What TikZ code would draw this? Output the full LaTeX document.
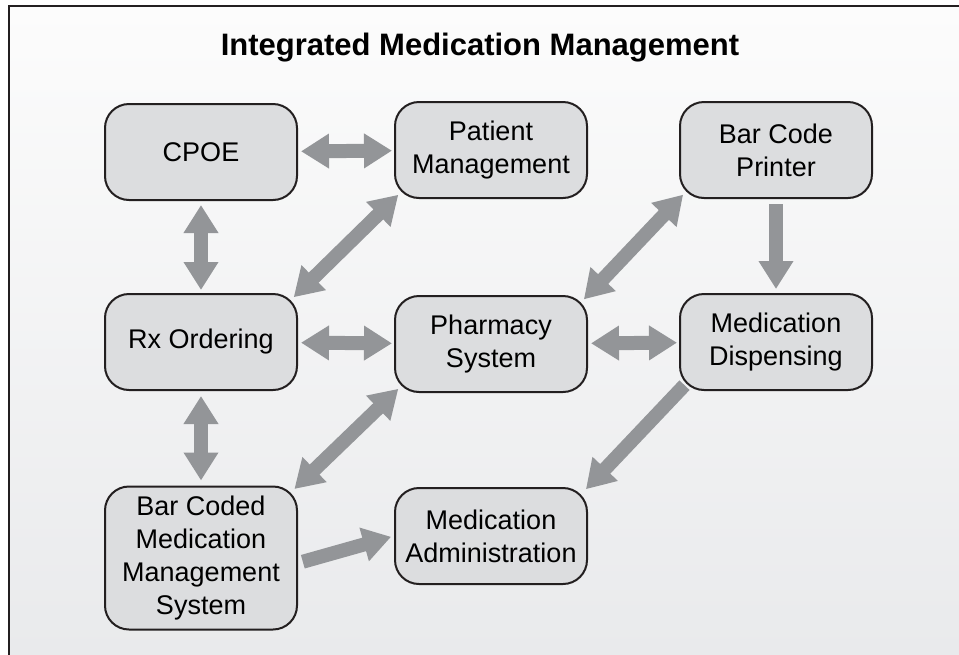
\documentclass[tikz,border=0pt]{standalone}
\usepackage{fontspec}
\setmainfont{Liberation Sans}
\usetikzlibrary{arrows.meta}
\definecolor{boxgray}{HTML}{DCDDDF}
\definecolor{arrowgray}{HTML}{939598}
\definecolor{framedark}{HTML}{231F20}
\definecolor{bgtop}{HTML}{FCFCFC}
\definecolor{bgbottom}{HTML}{E8E9EB}
\begin{document}
\begin{tikzpicture}[x=1pt, y=-1pt,
	sysbox/.style={draw=framedark, line width=2pt, fill=boxgray, rounded corners=24pt,
		minimum width=192pt, minimum height=96pt, inner sep=0pt, align=center,
		font=\fontsize{27}{33}\selectfont},
	dblarrow/.style={arrowgray, line width=14pt,
		{Triangle[length=28pt,width=33pt]}-{Triangle[length=28pt,width=33pt]}},
	onearrow/.style={arrowgray, line width=14pt, -{Triangle[length=28pt,width=33pt]}}]

		\useasboundingbox (0,0) rectangle (959,654);
		\clip (0,0) rectangle (959,654);
		\shade[top color=bgtop, bottom color=bgbottom] (9,6) rectangle (990,690);
		\draw[framedark, line width=2.5pt] (9,6) rectangle (990,690);

		\node[anchor=base, font=\fontsize{31}{36}\selectfont\bfseries] (title) at (480,55) {Integrated Medication Management};

		\foreach \n / \x / \y / \t in {cpoe/201/152/{CPOE}, pm/491/150/{Patient\\Management},
			bcp/776/150/{Bar Code\\Printer}, rx/201/342/{Rx Ordering}, ph/491/344/{Pharmacy\\System},
			md/776/342/{Medication\\Dispensing}, ma/491/536/{Medication\\Administration}} {
		\node[sysbox] (\n) at (\x, \y) {\t};
		}
		\node[sysbox, minimum height=143pt] (bcm) at (201,558) {Bar Coded\\Medication\\Management\\System};

		\draw[dblarrow, shorten <=3pt, shorten >=2pt] (cpoe) -- (pm);
		\draw[dblarrow, shorten <=4pt, shorten >=3pt] (cpoe) -- (rx);
		\draw[dblarrow, shorten <=-6pt, shorten >=-6pt] (rx.north east) -- (pm.south west);
		\draw[dblarrow, shorten <=3pt, shorten >=2pt] (rx) -- (ph);
		\draw[dblarrow, shorten <=-6pt, shorten >=-6pt] (ph.north east) -- (bcp.south west);
		\draw[onearrow, shorten <=5pt, shorten >=4pt] (bcp) -- (md);
		\draw[dblarrow, shorten <=3pt, shorten >=2pt] (ph) -- (md);
		\draw[dblarrow, shorten <=5pt, shorten >=5pt] (rx) -- (bcm);
		\draw[dblarrow, shorten <=-5pt, shorten >=-6pt] (bcm.north east) -- (ph.south west);
		\draw[onearrow, shorten <=-8pt, shorten >=-3pt] (md.south west) -- (ma.north east);
		\draw[onearrow, shorten <=5pt, shorten >=3pt] (bcm.-3) -- (ma.west);

	\end{tikzpicture}
\end{document}
